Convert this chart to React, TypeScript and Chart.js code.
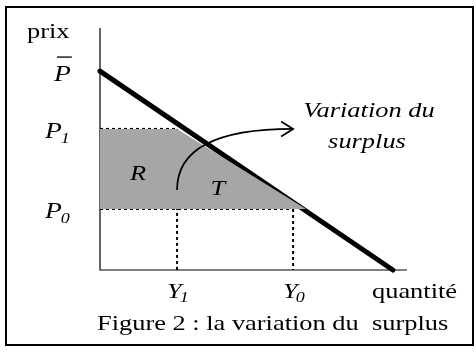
import { useEffect, useRef } from 'react';
import { Chart, registerables } from 'chart.js';

Chart.register(...registerables);

// ---- data (quantity on x, price on y, in arbitrary units 0..100) ----
const axisMax = [100, 100];
const demandQty = [0, 95.4];
const demandPrice = [82.2, 0];
const priceNames = ['P', 'P', 'P'];
const priceSubs = ['', '1', '0'];
const priceBars = [true, false, false];
const priceLevels = [82.2, 58.3, 25.2];
const quantityNames = ['Y', 'Y'];
const quantitySubs = ['1', '0'];
const quantityLevels = [25.1, 62.9];
const surplusQty = [0, 25.1, 67.1];
const surplusPrice = [58.3, 58.3, 25.2];
const areaNames = ['R', 'T'];
const areaQty = [12.4, 38.4];
const areaPrice = [40.5, 34.3];
const arrowQty = [25.1, 25.1, 62.9];
const arrowPrice = [33.1, 58.3, 58.3];
const calloutLines = ['Variation du', 'surplus'];
const axisTitles = ['prix', 'quantité'];
const caption = 'Figure 2 : la variation du  surplus';

const SX = 1.2; // horizontal text stretch of the original figure
const SERIF = '"Liberation Serif", "Times New Roman", serif';

function pts(xs: number[], ys: number[]) {
  return xs.map((x, i) => ({ x, y: ys[i] }));
}

export default function App() {
  const ref = useRef<HTMLCanvasElement>(null);
  useEffect(() => {
    const canvas = ref.current!;
    const text = (ctx: CanvasRenderingContext2D, s: string, x: number, y: number, font: string, align: CanvasTextAlign = 'left') => {
      ctx.save();
      ctx.translate(x, y);
      ctx.scale(SX, 1);
      ctx.font = font;
      ctx.textAlign = align;
      ctx.textBaseline = 'alphabetic';
      ctx.fillStyle = '#000';
      ctx.fillText(s, 0, 0);
      ctx.restore();
    };
    const width = (ctx: CanvasRenderingContext2D, s: string, font: string) => {
      ctx.save();
      ctx.font = font;
      const w = ctx.measureText(s).width * SX;
      ctx.restore();
      return w;
    };
    const it = (n: number) => `italic ${n}px ${SERIF}`;
    const rm = (n: number) => `${n}px ${SERIF}`;

    const decor = {
      id: 'decor',
      afterDraw(chart: any) {
        const ctx: CanvasRenderingContext2D = chart.ctx;
        const xs = chart.scales.x;
        const ys = chart.scales.y;
        const X = (v: number) => xs.getPixelForValue(v);
        const Y = (v: number) => ys.getPixelForValue(v);
        const left = X(0);
        const bottom = Y(0);

        // frame
        ctx.save();
        ctx.strokeStyle = '#000';
        ctx.lineWidth = 2;
        ctx.strokeRect(6, 7, 467, 338);
        ctx.restore();

        // curved arrow
        ctx.save();
        ctx.strokeStyle = '#000';
        ctx.lineWidth = 1.8;
        ctx.beginPath();
        ctx.moveTo(X(arrowQty[0]), Y(arrowPrice[0]));
        ctx.quadraticCurveTo(X(arrowQty[1]), Y(arrowPrice[1]), X(arrowQty[2]), Y(arrowPrice[2]));
        ctx.stroke();
        const tx = X(arrowQty[2]);
        const ty = Y(arrowPrice[2]);
        ctx.beginPath();
        ctx.moveTo(tx - 12, ty - 7.5);
        ctx.lineTo(tx, ty);
        ctx.lineTo(tx - 12, ty + 7.5);
        ctx.stroke();
        ctx.restore();

        // axis titles
        text(ctx, axisTitles[0], 27, Y(axisMax[1]) + 10, rm(22));
        text(ctx, axisTitles[1], 372, bottom + 28, rm(22));

        // price labels
        priceLevels.forEach((v, i) => {
          const py = Y(v);
          const baseX = priceBars[i] ? left - 46 : left - 55;
          const by = priceBars[i] ? py + 10 : py + 9;
          text(ctx, priceNames[i], baseX, by, it(23));
          const w = width(ctx, priceNames[i], it(23));
          if (priceSubs[i]) text(ctx, priceSubs[i], baseX + w - 1, by + 5, it(15));
          if (priceBars[i]) {
            ctx.save();
            ctx.strokeStyle = '#000';
            ctx.lineWidth = 1.3;
            ctx.beginPath();
            ctx.moveTo(baseX + 3, by - 24);
            ctx.lineTo(baseX + w + 1, by - 24);
            ctx.stroke();
            ctx.restore();
          }
        });

        // quantity labels
        quantityLevels.forEach((v, i) => {
          const qx = X(v);
          const w = width(ctx, quantityNames[i], it(22));
          const sx = qx - 10;
          text(ctx, quantityNames[i], sx, bottom + 28, it(22));
          text(ctx, quantitySubs[i], sx + w - 2, bottom + 32, it(15));
        });

        // area labels
        areaNames.forEach((n, i) => {
          text(ctx, n, X(areaQty[i]), Y(areaPrice[i]) + 8, it(22), 'center');
        });

        // callout
        text(ctx, calloutLines[0], 369, 117, it(22), 'center');
        text(ctx, calloutLines[1], 367, 148, it(22), 'center');

        // caption
        text(ctx, caption, 97, 330, rm(22));
      },
    };

    const dotted = (data: { x: number; y: number }[]) => ({
      data,
      showLine: true,
      borderColor: '#000',
      borderWidth: 2,
      borderDash: [3, 3],
      pointRadius: 0,
      clip: false,
      fill: false,
    });

    const chart = new Chart(canvas, {
      type: 'scatter',
      data: {
        datasets: [
          {
            data: pts(surplusQty, surplusPrice),
            showLine: true,
            borderWidth: 0,
            borderColor: 'rgba(0,0,0,0)',
            backgroundColor: '#a6a6a6',
            fill: { value: priceLevels[2] },
            pointRadius: 0,
            clip: false,
          } as any,
          dotted(pts([0, quantityLevels[0]], [priceLevels[1], priceLevels[1]])),
          dotted(pts([0, quantityLevels[1]], [priceLevels[2], priceLevels[2]])),
          dotted(pts([quantityLevels[0], quantityLevels[0]], [priceLevels[1], 0])),
          dotted(pts([quantityLevels[1], quantityLevels[1]], [priceLevels[2], 0])),
          {
            data: pts([0, 0, axisMax[0]], [axisMax[1], 0, 0]),
            showLine: true,
            borderColor: '#000',
            borderWidth: 1.2,
            pointRadius: 0,
            clip: false,
            fill: false,
          },
          {
            data: pts(demandQty, demandPrice),
            showLine: true,
            borderColor: '#000',
            borderWidth: 5,
            borderCapStyle: 'round',
            pointRadius: 0,
            clip: false,
            fill: false,
          } as any,
        ],
      },
      options: {
        animation: false,
        responsive: false,
        devicePixelRatio: 1,
        layout: { padding: { left: 100, right: 69, top: 28, bottom: 84 } },
        scales: {
          x: { type: 'linear', min: 0, max: axisMax[0], display: false },
          y: { type: 'linear', min: 0, max: axisMax[1], display: false },
        },
        plugins: { legend: { display: false }, tooltip: { enabled: false }, title: { display: false } },
        events: [],
      },
      plugins: [decor],
    });
    return () => chart.destroy();
  }, []);
  return (
    <div style={{ position: 'fixed', left: 0, top: 0, width: 476, height: 354, background: '#fff' }}>
      <canvas ref={ref} width={476} height={354} style={{ display: 'block', width: 476, height: 354 }} />
    </div>
  );
}
